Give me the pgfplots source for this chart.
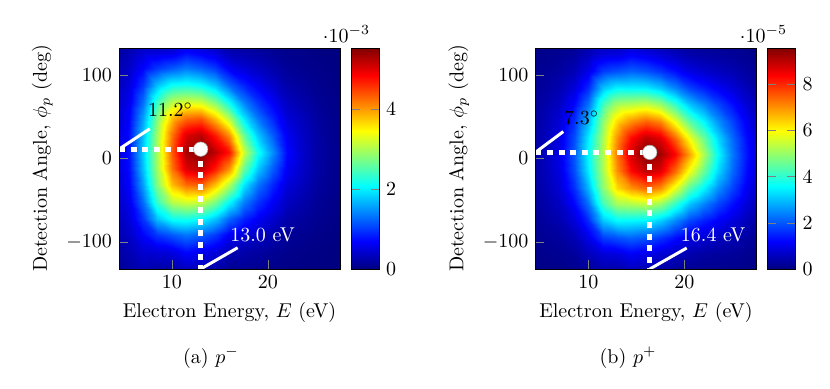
\documentclass[border=0pt]{standalone}
\usepackage{pgfplots}
\pgfplotsset{compat=1.18}
\begin{document}
\begin{tikzpicture}
\path[use as bounding box] (0,0) rectangle (415pt,194pt);
\pgfplotsset{
  heat/.style={
    anchor=south west, scale only axis, width=110.5pt, height=110.5pt,
    xmin=4.5, xmax=27.5, ymin=-132.5, ymax=132.5,
    xtick={10,20}, ytick={-100,0,100}, tick pos=left,
    xlabel={Electron Energy, $E$ (eV)},
    ylabel={Detection Angle, $\phi_p$ (deg)},
    colormap/jet, colorbar, point meta min=0,
    colorbar style={at={(parent axis.north east)}, anchor=north west,
      xshift=-3pt, scale only axis, width=14pt, height=110.5pt},
    axis on top,
  },
  map/.style={surf, shader=interp, point meta=explicit,
    mesh/ordering=y varies, mesh/rows=16, mesh/cols=17},
  dots/.style={white, line width=2.5pt, dash pattern=on 3pt off 2.8pt},
  pinline/.style={white, line width=1.5pt},
  peak/.style={only marks, mark=*, mark size=3.6pt,
    mark options={fill=white, draw=black!35, line width=0.3pt}},
}

% (a) p^-  values in units of 1e-3
\begin{axis}[heat, at={(59.5pt,59.5pt)}, point meta max=5.52,
  colorbar style={ytick={0,2,4}}]
\addplot[map] coordinates {
(4,-152)[0.08] (4,-132)[0.12] (4,-112)[0.16] (4,-92)[0.21] (4,-72)[0.26] (4,-52)[0.31] (4,-32)[0.35] (4,-12)[0.38] (4,8)[0.39] (4,28)[0.38] (4,48)[0.35] (4,68)[0.31] (4,88)[0.26] (4,108)[0.21] (4,128)[0.16] (4,148)[0.12]
(5.5,-152)[0.13] (5.5,-132)[0.20] (5.5,-112)[0.29] (5.5,-92)[0.39] (5.5,-72)[0.50] (5.5,-52)[0.60] (5.5,-32)[0.69] (5.5,-12)[0.75] (5.5,8)[0.77] (5.5,28)[0.75] (5.5,48)[0.69] (5.5,68)[0.60] (5.5,88)[0.50] (5.5,108)[0.39] (5.5,128)[0.29] (5.5,148)[0.20]
(7,-152)[0.15] (7,-132)[0.28] (7,-112)[0.45] (7,-92)[0.69] (7,-72)[0.98] (7,-52)[1.29] (7,-32)[1.56] (7,-12)[1.75] (7,8)[1.82] (7,28)[1.75] (7,48)[1.56] (7,68)[1.29] (7,88)[0.98] (7,108)[0.69] (7,128)[0.45] (7,148)[0.28]
(8.5,-152)[0.09] (8.5,-132)[0.21] (8.5,-112)[0.48] (8.5,-92)[0.98] (8.5,-72)[1.73] (8.5,-52)[2.38] (8.5,-32)[2.77] (8.5,-12)[2.94] (8.5,8)[2.98] (8.5,28)[2.94] (8.5,48)[2.77] (8.5,68)[2.38] (8.5,88)[1.73] (8.5,108)[0.98] (8.5,128)[0.48] (8.5,148)[0.21]
(10,-152)[0.09] (10,-132)[0.22] (10,-112)[0.52] (10,-92)[1.16] (10,-72)[2.12] (10,-52)[3.07] (10,-32)[3.80] (10,-12)[4.22] (10,8)[4.36] (10,28)[4.22] (10,48)[3.80] (10,68)[3.07] (10,88)[2.12] (10,108)[1.16] (10,128)[0.52] (10,148)[0.22]
(11.5,-152)[0.15] (11.5,-132)[0.35] (11.5,-112)[0.72] (11.5,-92)[1.32] (11.5,-72)[2.18] (11.5,-52)[3.22] (11.5,-32)[4.24] (11.5,-12)[5.01] (11.5,8)[5.30] (11.5,28)[5.01] (11.5,48)[4.24] (11.5,68)[3.22] (11.5,88)[2.18] (11.5,108)[1.32] (11.5,128)[0.72] (11.5,148)[0.35]
(13,-152)[0.10] (13,-132)[0.27] (13,-112)[0.60] (13,-92)[1.19] (13,-72)[2.06] (13,-52)[3.17] (13,-32)[4.32] (13,-12)[5.19] (13,8)[5.52] (13,28)[5.19] (13,48)[4.32] (13,68)[3.17] (13,88)[2.06] (13,108)[1.19] (13,128)[0.60] (13,148)[0.27]
(14.5,-152)[0.08] (14.5,-132)[0.21] (14.5,-112)[0.49] (14.5,-92)[0.99] (14.5,-72)[1.75] (14.5,-52)[2.74] (14.5,-32)[3.78] (14.5,-12)[4.69] (14.5,8)[5.19] (14.5,28)[4.69] (14.5,48)[3.78] (14.5,68)[2.74] (14.5,88)[1.75] (14.5,108)[0.99] (14.5,128)[0.49] (14.5,148)[0.21]
(16,-152)[0.04] (16,-132)[0.11] (16,-112)[0.28] (16,-92)[0.63] (16,-72)[1.23] (16,-52)[2.07] (16,-32)[3.02] (16,-12)[4.04] (16,8)[4.75] (16,28)[4.04] (16,48)[3.02] (16,68)[2.07] (16,88)[1.23] (16,108)[0.63] (16,128)[0.28] (16,148)[0.11]
(17.5,-152)[0.04] (17.5,-132)[0.10] (17.5,-112)[0.23] (17.5,-92)[0.47] (17.5,-72)[0.86] (17.5,-52)[1.37] (17.5,-32)[1.93] (17.5,-12)[2.60] (17.5,8)[3.15] (17.5,28)[2.60] (17.5,48)[1.93] (17.5,68)[1.37] (17.5,88)[0.86] (17.5,108)[0.47] (17.5,128)[0.23] (17.5,148)[0.10]
(19,-152)[0.03] (19,-132)[0.08] (19,-112)[0.18] (19,-92)[0.36] (19,-72)[0.62] (19,-52)[0.95] (19,-32)[1.31] (19,-12)[1.76] (19,8)[2.15] (19,28)[1.76] (19,48)[1.31] (19,68)[0.95] (19,88)[0.62] (19,108)[0.36] (19,128)[0.18] (19,148)[0.08]
(20.5,-152)[0.02] (20.5,-132)[0.05] (20.5,-112)[0.12] (20.5,-92)[0.24] (20.5,-72)[0.41] (20.5,-52)[0.64] (20.5,-32)[0.87] (20.5,-12)[1.17] (20.5,8)[1.44] (20.5,28)[1.17] (20.5,48)[0.87] (20.5,68)[0.64] (20.5,88)[0.41] (20.5,108)[0.24] (20.5,128)[0.12] (20.5,148)[0.05]
(22,-152)[0.01] (22,-132)[0.03] (22,-112)[0.07] (22,-92)[0.13] (22,-72)[0.23] (22,-52)[0.35] (22,-32)[0.48] (22,-12)[0.62] (22,8)[0.72] (22,28)[0.62] (22,48)[0.48] (22,68)[0.35] (22,88)[0.23] (22,108)[0.13] (22,128)[0.07] (22,148)[0.03]
(23.5,-152)[0.01] (23.5,-132)[0.02] (23.5,-112)[0.05] (23.5,-92)[0.09] (23.5,-72)[0.16] (23.5,-52)[0.24] (23.5,-32)[0.33] (23.5,-12)[0.39] (23.5,8)[0.41] (23.5,28)[0.39] (23.5,48)[0.33] (23.5,68)[0.24] (23.5,88)[0.16] (23.5,108)[0.09] (23.5,128)[0.05] (23.5,148)[0.02]
(25,-152)[0.01] (25,-132)[0.01] (25,-112)[0.03] (25,-92)[0.06] (25,-72)[0.09] (25,-52)[0.13] (25,-32)[0.18] (25,-12)[0.21] (25,8)[0.22] (25,28)[0.21] (25,48)[0.18] (25,68)[0.13] (25,88)[0.09] (25,108)[0.06] (25,128)[0.03] (25,148)[0.01]
(26.5,-152)[0.00] (26.5,-132)[0.01] (26.5,-112)[0.01] (26.5,-92)[0.03] (26.5,-72)[0.05] (26.5,-52)[0.07] (26.5,-32)[0.09] (26.5,-12)[0.10] (26.5,8)[0.11] (26.5,28)[0.10] (26.5,48)[0.09] (26.5,68)[0.07] (26.5,88)[0.05] (26.5,108)[0.03] (26.5,128)[0.01] (26.5,148)[0.01]
(28,-152)[0.00] (28,-132)[0.00] (28,-112)[0.01] (28,-92)[0.01] (28,-72)[0.02] (28,-52)[0.03] (28,-32)[0.04] (28,-12)[0.05] (28,8)[0.06] (28,28)[0.05] (28,48)[0.04] (28,68)[0.03] (28,88)[0.02] (28,108)[0.01] (28,128)[0.01] (28,148)[0.00]
};
\addplot[dots] coordinates {(4.5,11.2) (13,11.2)};
\addplot[dots] coordinates {(13,11.2) (13,-132.5)};
\addplot[pinline] coordinates {(4.5,11.2) (7.7,35.6)};
\addplot[pinline] coordinates {(13,-132.5) (16.85,-107)};
\addplot[peak] coordinates {(13,11.2)};
\node[text=black] at (axis cs:9.86,58.3) {11.2$^\circ$};
\node[text=white] at (axis cs:19.45,-91.4) {13.0 eV};
\end{axis}

% (b) p^+  values in units of 1e-5
\begin{axis}[heat, at={(267.7pt,59.5pt)}, point meta max=9.57,
  colorbar style={ytick={0,2,4,6,8}}]
\addplot[map] coordinates {
(4,-155)[0.03] (4,-135)[0.05] (4,-115)[0.08] (4,-95)[0.12] (4,-75)[0.16] (4,-55)[0.21] (4,-35)[0.25] (4,-15)[0.28] (4,5)[0.29] (4,25)[0.28] (4,45)[0.25] (4,65)[0.21] (4,85)[0.16] (4,105)[0.12] (4,125)[0.08] (4,145)[0.05]
(5.5,-155)[0.04] (5.5,-135)[0.08] (5.5,-115)[0.13] (5.5,-95)[0.21] (5.5,-75)[0.30] (5.5,-55)[0.40] (5.5,-35)[0.49] (5.5,-15)[0.55] (5.5,5)[0.57] (5.5,25)[0.55] (5.5,45)[0.49] (5.5,65)[0.40] (5.5,85)[0.30] (5.5,105)[0.21] (5.5,125)[0.13] (5.5,145)[0.08]
(7,-155)[0.05] (7,-135)[0.09] (7,-115)[0.17] (7,-95)[0.29] (7,-75)[0.45] (7,-55)[0.62] (7,-35)[0.79] (7,-15)[0.91] (7,5)[0.96] (7,25)[0.91] (7,45)[0.79] (7,65)[0.62] (7,85)[0.45] (7,105)[0.29] (7,125)[0.17] (7,145)[0.09]
(8.5,-155)[0.06] (8.5,-135)[0.13] (8.5,-115)[0.27] (8.5,-95)[0.50] (8.5,-75)[0.83] (8.5,-55)[1.22] (8.5,-35)[1.61] (8.5,-15)[1.90] (8.5,5)[2.01] (8.5,25)[1.90] (8.5,45)[1.61] (8.5,65)[1.22] (8.5,85)[0.83] (8.5,105)[0.50] (8.5,125)[0.27] (8.5,145)[0.13]
(10,-155)[0.13] (10,-135)[0.28] (10,-115)[0.55] (10,-95)[0.98] (10,-75)[1.56] (10,-55)[2.25] (10,-35)[2.91] (10,-15)[3.41] (10,5)[3.59] (10,25)[3.41] (10,45)[2.91] (10,65)[2.25] (10,85)[1.56] (10,105)[0.98] (10,125)[0.55] (10,145)[0.28]
(11.5,-155)[0.16] (11.5,-135)[0.37] (11.5,-115)[0.84] (11.5,-95)[1.74] (11.5,-75)[3.05] (11.5,-55)[4.21] (11.5,-35)[4.90] (11.5,-15)[5.19] (11.5,5)[5.26] (11.5,25)[5.19] (11.5,45)[4.90] (11.5,65)[4.21] (11.5,85)[3.05] (11.5,105)[1.74] (11.5,125)[0.84] (11.5,145)[0.37]
(13,-155)[0.15] (13,-135)[0.36] (13,-115)[0.87] (13,-95)[1.93] (13,-75)[3.53] (13,-55)[5.12] (13,-35)[6.33] (13,-15)[7.04] (13,5)[7.27] (13,25)[7.04] (13,45)[6.33] (13,65)[5.12] (13,85)[3.53] (13,105)[1.93] (13,125)[0.87] (13,145)[0.36]
(14.5,-155)[0.22] (14.5,-135)[0.53] (14.5,-115)[1.11] (14.5,-95)[2.10] (14.5,-75)[3.51] (14.5,-55)[5.25] (14.5,-35)[7.00] (14.5,-15)[8.31] (14.5,5)[8.80] (14.5,25)[8.31] (14.5,45)[7.00] (14.5,65)[5.25] (14.5,85)[3.51] (14.5,105)[2.10] (14.5,125)[1.11] (14.5,145)[0.53]
(16,-155)[0.16] (16,-135)[0.42] (16,-115)[0.97] (16,-95)[1.94] (16,-75)[3.45] (16,-55)[5.39] (16,-35)[7.42] (16,-15)[8.98] (16,5)[9.57] (16,25)[8.98] (16,45)[7.42] (16,65)[5.39] (16,85)[3.45] (16,105)[1.94] (16,125)[0.97] (16,145)[0.42]
(17.5,-155)[0.11] (17.5,-135)[0.32] (17.5,-115)[0.79] (17.5,-95)[1.67] (17.5,-75)[3.10] (17.5,-55)[5.01] (17.5,-35)[7.06] (17.5,-15)[8.67] (17.5,5)[9.28] (17.5,25)[8.67] (17.5,45)[7.06] (17.5,65)[5.01] (17.5,85)[3.10] (17.5,105)[1.67] (17.5,125)[0.79] (17.5,145)[0.32]
(19,-155)[0.08] (19,-135)[0.24] (19,-115)[0.59] (19,-95)[1.29] (19,-75)[2.45] (19,-55)[4.04] (19,-35)[5.78] (19,-15)[7.42] (19,5)[8.37] (19,25)[7.42] (19,45)[5.78] (19,65)[4.04] (19,85)[2.45] (19,105)[1.29] (19,125)[0.59] (19,145)[0.24]
(20.5,-155)[0.05] (20.5,-135)[0.16] (20.5,-115)[0.42] (20.5,-95)[0.93] (20.5,-75)[1.82] (20.5,-55)[3.05] (20.5,-35)[4.44] (20.5,-15)[5.91] (20.5,5)[6.89] (20.5,25)[5.91] (20.5,45)[4.44] (20.5,65)[3.05] (20.5,85)[1.82] (20.5,105)[0.93] (20.5,125)[0.42] (20.5,145)[0.16]
(22,-155)[0.04] (22,-135)[0.13] (22,-115)[0.33] (22,-95)[0.74] (22,-75)[1.44] (22,-55)[2.41] (22,-35)[3.50] (22,-15)[4.55] (22,5)[5.17] (22,25)[4.55] (22,45)[3.50] (22,65)[2.41] (22,85)[1.44] (22,105)[0.74] (22,125)[0.33] (22,145)[0.13]
(23.5,-155)[0.04] (23.5,-135)[0.12] (23.5,-115)[0.28] (23.5,-95)[0.60] (23.5,-75)[1.12] (23.5,-55)[1.81] (23.5,-35)[2.55] (23.5,-15)[3.23] (23.5,5)[3.59] (23.5,25)[3.23] (23.5,45)[2.55] (23.5,65)[1.81] (23.5,85)[1.12] (23.5,105)[0.60] (23.5,125)[0.28] (23.5,145)[0.12]
(25,-155)[0.04] (25,-135)[0.10] (25,-115)[0.24] (25,-95)[0.48] (25,-75)[0.84] (25,-55)[1.32] (25,-35)[1.82] (25,-15)[2.20] (25,5)[2.35] (25,25)[2.20] (25,45)[1.82] (25,65)[1.32] (25,85)[0.84] (25,105)[0.48] (25,125)[0.24] (25,145)[0.10]
(26.5,-155)[0.03] (26.5,-135)[0.07] (26.5,-115)[0.16] (26.5,-95)[0.30] (26.5,-75)[0.52] (26.5,-55)[0.79] (26.5,-35)[1.06] (26.5,-15)[1.26] (26.5,5)[1.34] (26.5,25)[1.26] (26.5,45)[1.06] (26.5,65)[0.79] (26.5,85)[0.52] (26.5,105)[0.30] (26.5,125)[0.16] (26.5,145)[0.07]
(28,-155)[0.02] (28,-135)[0.04] (28,-115)[0.09] (28,-95)[0.17] (28,-75)[0.28] (28,-55)[0.41] (28,-35)[0.54] (28,-15)[0.63] (28,5)[0.67] (28,25)[0.63] (28,45)[0.54] (28,65)[0.41] (28,85)[0.28] (28,105)[0.17] (28,125)[0.09] (28,145)[0.04]
};
\addplot[dots] coordinates {(4.5,7.3) (16.4,7.3)};
\addplot[dots] coordinates {(16.4,7.3) (16.4,-132.5)};
\addplot[pinline] coordinates {(4.5,7.3) (7.4,32.3)};
\addplot[pinline] coordinates {(16.4,-132.5) (20.25,-107.3)};
\addplot[peak] coordinates {(16.4,7.3)};
\node[text=black] at (axis cs:9.31,48.4) {7.3$^\circ$};
\node[text=white] at (axis cs:23.0,-91.4) {16.4 eV};
\end{axis}

\node[anchor=base] at (173.25pt,173pt) {$\cdot 10^{-3}$};
\node[anchor=base] at (381.75pt,173pt) {$\cdot 10^{-5}$};
\node[anchor=base] at (105.5pt,12.5pt) {(a) $p^-$};
\node[anchor=base] at (314pt,12.5pt) {(b) $p^+$};
\end{tikzpicture}
\end{document}
